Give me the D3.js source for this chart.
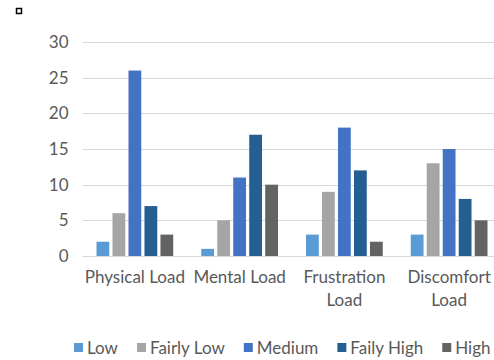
<!DOCTYPE html>
<html lang="en">
    <head>
        <meta charset="UTF-8">
        <title>Load levels</title>
        <script src="https://d3js.org/d3.v7.min.js"></script>
        <style>
            body { margin: 0; background: #fff; }
            text { font-family: Lato, "Open Sans", sans-serif; fill: #595959; }
        </style>
    </head>
    <body>
        <script>
            const width = 494
            const height = 360

            // data
            const categories = ["Physical Load", "Mental Load", "Frustration Load", "Discomfort Load"]
            const levels = ["Low", "Fairly Low", "Medium", "Faily High", "High"]
            const low = [2, 1, 3, 3]
            const fairlyLow = [6, 5, 9, 13]
            const medium = [26, 11, 18, 15]
            const failyHigh = [7, 17, 12, 8]
            const high = [3, 10, 2, 5]
            const yTicks = [0, 5, 10, 15, 20, 25, 30]

            const series = [low, fairlyLow, medium, failyHigh, high]
            const colors = ["#5b9bd5", "#a5a5a5", "#4472c4", "#255e91", "#636363"]

            const margin = { top: 42, left: 82.5, bottom: 104 }
            const plotRight = 501.5

            const svg = d3.select("body").append("svg")
                .attr("width", width)
                .attr("height", height)

            // little marker in the corner
            svg.append("rect")
                .attr("x", 16.5).attr("y", 8.5)
                .attr("width", 5).attr("height", 5)
                .attr("fill", "#fff").attr("stroke", "#000").attr("stroke-width", 1.5)

            const x0 = d3.scaleBand()
                .domain(categories)
                .range([margin.left, plotRight])

            const x1 = d3.scaleBand()
                .domain(levels)
                .range([14, x0.bandwidth() - 14])
                .paddingInner(0.2)

            const y = d3.scaleLinear()
                .domain([0, 30])
                .range([height - margin.bottom, margin.top])

            // gridlines
            svg.append("g")
                .selectAll("line")
                .data(yTicks)
                .enter().append("line")
                .attr("x1", margin.left).attr("x2", plotRight)
                .attr("y1", d => Math.round(y(d)) + 0.5)
                .attr("y2", d => Math.round(y(d)) + 0.5)
                .attr("stroke", "#d9d9d9")

            // y labels
            const yAxis = svg.append("g")
                .attr("transform", `translate(${margin.left - 14}, 0)`)
                .call(d3.axisLeft(y).tickValues(yTicks).tickSize(0).tickPadding(0))
            yAxis.select(".domain").remove()
            yAxis.selectAll("text")
                .style("font-family", "Lato, 'Open Sans', sans-serif")
                .style("font-size", "17px")
                .attr("fill", "#595959")

            // bars
            const groups = svg.append("g")
                .selectAll("g")
                .data(categories)
                .enter().append("g")
                .attr("transform", d => `translate(${x0(d)}, 0)`)

            groups.selectAll("rect")
                .data((c, ci) => levels.map((l, li) => ({ level: l, value: series[li][ci], color: colors[li] })))
                .enter().append("rect")
                .attr("x", d => x1(d.level))
                .attr("width", x1.bandwidth())
                .attr("y", d => y(d.value))
                .attr("height", d => y(0) - y(d.value))
                .attr("fill", d => d.color)

            // category labels, wrapped when wider than the band
            const maxLabel = 106
            categories.forEach(c => {
                const t = svg.append("text")
                    .attr("x", x0(c) + x0.bandwidth() / 2)
                    .attr("y", 283)
                    .attr("text-anchor", "middle")
                    .style("font-size", "17px")
                    .text(c)
                if (t.node().getComputedTextLength() > maxLabel) {
                    const words = c.split(" ")
                    t.text(null)
                    t.append("tspan").attr("x", x0(c) + x0.bandwidth() / 2).text(words.slice(0, -1).join(" "))
                    t.append("tspan").attr("x", x0(c) + x0.bandwidth() / 2).attr("dy", 23).text(words[words.length - 1])
                }
            })

            // legend
            const legend = svg.append("g").attr("transform", "translate(74, 354)")
            let lx = 0
            levels.forEach((l, i) => {
                const item = legend.append("g").attr("transform", `translate(${lx}, 0)`)
                item.append("rect")
                    .attr("x", 0).attr("y", -11)
                    .attr("width", 9).attr("height", 9)
                    .attr("fill", colors[i])
                const t = item.append("text")
                    .attr("x", 13)
                    .style("font-size", "17px")
                    .text(l)
                lx += 13 + t.node().getComputedTextLength() + 19
            })
        </script>
    </body>
</html>
